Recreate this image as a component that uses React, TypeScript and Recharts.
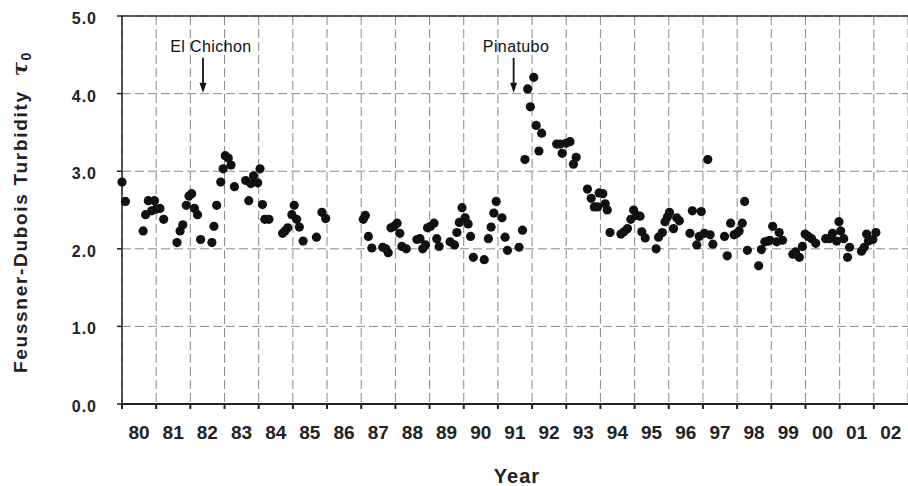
import React from 'react';
import { ScatterChart, Scatter, XAxis, YAxis, CartesianGrid, ReferenceLine, ReferenceDot } from 'recharts';

// year boundaries (grid lines) and turbidity ticks
const yearTicks = [
  1980, 1981, 1982, 1983, 1984, 1985, 1986, 1987, 1988, 1989, 1990, 1991,
  1992, 1993, 1994, 1995, 1996, 1997, 1998, 1999, 2000, 2001, 2002,
];
const tauTicks = [0, 1, 2, 3, 4, 5];

// observations, decimal year / turbidity tau0
const time80s = [
  1980.0, 1980.1, 1980.62, 1980.69, 1980.77, 1980.87, 1980.95, 1980.99, 1981.11, 1981.22,
  1981.61, 1981.7, 1981.78, 1981.88, 1981.96, 1982.04, 1982.12, 1982.21, 1982.3, 1982.63,
  1982.69, 1982.77, 1982.89, 1982.96, 1983.02, 1983.11, 1983.19, 1983.29, 1983.62, 1983.71,
  1983.77, 1983.85, 1983.97, 1984.04, 1984.11, 1984.18, 1984.3, 1984.7, 1984.77, 1984.85,
  1984.97, 1985.04, 1985.11, 1985.19, 1985.3, 1985.69, 1985.85, 1985.96, 1987.06, 1987.12,
  1987.21, 1987.31, 1987.63, 1987.72, 1987.79, 1987.87, 1987.96, 1988.05, 1988.13, 1988.19,
  1988.32, 1988.63, 1988.72, 1988.8, 1988.88, 1988.94, 1989.03, 1989.13, 1989.21, 1989.28,
  1989.6, 1989.73, 1989.8, 1989.87, 1989.95,
];
const tau80s = [
  2.86, 2.61, 2.23, 2.44, 2.62, 2.49, 2.62, 2.51, 2.52, 2.38,
  2.08, 2.23, 2.31, 2.56, 2.68, 2.71, 2.52, 2.44, 2.12, 2.08,
  2.29, 2.56, 2.86, 3.03, 3.2, 3.17, 3.08, 2.8, 2.88, 2.62,
  2.84, 2.94, 2.85, 3.03, 2.57, 2.38, 2.38, 2.2, 2.23, 2.27,
  2.44, 2.56, 2.38, 2.28, 2.1, 2.15, 2.47, 2.39, 2.38, 2.43,
  2.16, 2.01, 2.02, 2.0, 1.95, 2.27, 2.29, 2.33, 2.2, 2.03,
  2.0, 2.12, 2.13, 2.0, 2.05, 2.27, 2.29, 2.33, 2.13, 2.03,
  2.09, 2.05, 2.21, 2.34, 2.53,
];

const time90s = [
  1990.04, 1990.13, 1990.2, 1990.28, 1990.6, 1990.72, 1990.8, 1990.88, 1990.95, 1991.12,
  1991.21, 1991.28, 1991.62, 1991.72, 1991.79, 1991.87, 1991.95, 1992.05, 1992.12, 1992.2,
  1992.28, 1992.72, 1992.82, 1992.88, 1992.99, 1993.11, 1993.21, 1993.29, 1993.62, 1993.73,
  1993.82, 1993.92, 1993.96, 1994.07, 1994.14, 1994.2, 1994.28, 1994.6, 1994.69, 1994.79,
  1994.89, 1994.97, 1995.06, 1995.16, 1995.21, 1995.31, 1995.63, 1995.7, 1995.81, 1995.89,
  1995.96, 1996.02, 1996.14, 1996.23, 1996.31, 1996.62, 1996.69, 1996.82, 1996.89, 1996.95,
  1997.04, 1997.14, 1997.21, 1997.29, 1997.63, 1997.71, 1997.81, 1997.91, 1997.99, 1998.06,
  1998.15, 1998.22, 1998.3, 1998.63, 1998.71, 1998.81, 1998.91, 1998.96, 1999.04, 1999.16,
  1999.23, 1999.33, 1999.63, 1999.71, 1999.82, 1999.91, 1999.99,
];
const tau90s = [
  2.4, 2.32, 2.16, 1.89, 1.86, 2.13, 2.28, 2.46, 2.61, 2.4,
  2.15, 1.98, 2.02, 2.24, 3.15, 4.06, 3.83, 4.21, 3.59, 3.26,
  3.49, 3.35, 3.35, 3.23, 3.36, 3.38, 3.09, 3.18, 2.77, 2.65,
  2.54, 2.54, 2.72, 2.71, 2.58, 2.5, 2.21, 2.19, 2.22, 2.26,
  2.38, 2.5, 2.43, 2.42, 2.22, 2.14, 2.0, 2.15, 2.21, 2.35,
  2.41, 2.47, 2.26, 2.4, 2.36, 2.2, 2.49, 2.05, 2.16, 2.48,
  2.2, 3.15, 2.18, 2.06, 2.16, 1.91, 2.33, 2.18, 2.2, 2.23,
  2.33, 2.61, 1.98, 1.78, 1.99, 2.09, 2.1, 2.11, 2.29, 2.09,
  2.21, 2.11, 1.93, 1.96, 1.89, 2.03, 2.19,
];

const time00s = [
  2000.08, 2000.18, 2000.3, 2000.59, 2000.7, 2000.79, 2000.91, 2000.98, 2001.03, 2001.12,
  2001.23, 2001.29, 2001.64, 2001.72, 2001.79, 2001.84, 2001.97, 2002.06,
];
const tau00s = [
  2.16, 2.13, 2.07, 2.13, 2.13, 2.2, 2.1, 2.35, 2.23, 2.13,
  1.89, 2.02, 1.97, 2.02, 2.19, 2.1, 2.12, 2.21,
];

// eruption annotations
const eruptionNames = ['El Chichon', 'Pinatubo'];
const eruptionArrowTime = [1982.37, 1991.46];
const eruptionLabelTime = [1982.6, 1991.53];
const arrowTipTau = 4.01;
const labelTau = 4.54;

const times = [...time80s, ...time90s, ...time00s];
const taus = [...tau80s, ...tau90s, ...tau00s];
const data = times.map((t, i) => ({ t, tau: taus[i] }));

const FONT = '"Liberation Sans", Arial, sans-serif';

const YearTick = (props: any) => {
  const { x, y, payload } = props;
  const label = String(payload.value % 100).padStart(2, '0');
  return (
    <text x={x + 17} y={y + 30} textAnchor="middle" fontFamily={FONT} fontSize={19}
      fontWeight="bold" fill="#222">
      {label}
    </text>
  );
};

const TauTick = (props: any) => {
  const { x, y, payload } = props;
  return (
    <text x={x} y={y + 8} textAnchor="end" fontFamily={FONT} fontSize={16}
      fontWeight="bold" fill="#222" letterSpacing={1}>
      {Number(payload.value).toFixed(1)}
    </text>
  );
};

const Arrow = (props: any) => {
  const { cx, cy } = props;
  return (
    <g>
      <line x1={cx} y1={cy - 35} x2={cx} y2={cy - 8} stroke="#111" strokeWidth={1.8} />
      <polygon points={`${cx - 3.5},${cy - 10} ${cx + 3.5},${cy - 10} ${cx},${cy}`} fill="#111" />
    </g>
  );
};

const eruptionLabel = (name: string) => (props: any) => (
  <text x={props.cx} y={props.cy} textAnchor="middle" fontFamily={FONT} fontSize={16}
    fill="#111" letterSpacing={0.4}>
    {name}
  </text>
);

export default function App() {
  return (
    <div style={{ position: 'absolute', left: 0, top: 0, background: '#fff' }}>
      <ScatterChart width={908} height={486} margin={{ top: 16, right: 0, left: 0, bottom: 0 }}>
        <CartesianGrid stroke="#8a8a8a" strokeDasharray="9 4" strokeWidth={1} />
        <XAxis
          type="number"
          dataKey="t"
          domain={[1980, 2003]}
          ticks={yearTicks}
          interval={0}
          height={82}
          tickSize={5}
          tickMargin={0}
          stroke="#222"
          strokeWidth={2}
          tick={<YearTick />}
          label={{
            content: () => (
              <text x={517} y={483} textAnchor="middle" fontFamily={FONT} fontSize={20}
                fontWeight="bold" fill="#222" letterSpacing={1}>
                Year
              </text>
            ),
          }}
        />
        <YAxis
          type="number"
          dataKey="tau"
          domain={[0, 5]}
          ticks={tauTicks}
          interval={0}
          width={122}
          tickSize={5}
          tickMargin={20}
          stroke="#222"
          strokeWidth={1.5}
          tick={<TauTick />}
          label={{
            content: () => (
              <text transform="translate(27,212) rotate(-90)" textAnchor="middle" fontFamily={FONT}
                fontSize={19} fontWeight="bold" fill="#222" letterSpacing={1.7}>
                Feussner-Dubois Turbidity{'\u00a0\u00a0'}
                <tspan fontStyle="italic" fontSize={21} fontFamily='"DejaVu Serif", serif'>τ</tspan>
                <tspan fontSize={14} dy={4}>0</tspan>
              </text>
            ),
          }}
        />
        <ReferenceLine y={5} stroke="#333" strokeWidth={1.5} />
        <Scatter
          data={data}
          isAnimationActive={false}
          shape={(p: any) => <circle cx={p.cx} cy={p.cy} r={4.6} fill="#111" />}
        />
        {eruptionNames.map((name, i) => (
          <ReferenceDot key={'a' + name} x={eruptionArrowTime[i]} y={arrowTipTau} shape={<Arrow />} />
        ))}
        {eruptionNames.map((name, i) => (
          <ReferenceDot key={'l' + name} x={eruptionLabelTime[i]} y={labelTau} shape={eruptionLabel(name)} />
        ))}
      </ScatterChart>
    </div>
  );
}
